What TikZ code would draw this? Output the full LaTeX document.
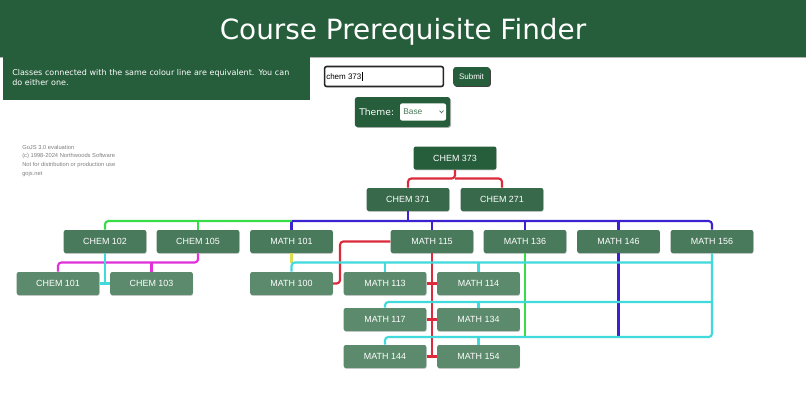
\documentclass[tikz,border=0pt]{standalone}
\usepackage{fontspec}
\setmainfont{Liberation Sans}
\newfontfamily\verdanalike{DejaVu Sans}
\usetikzlibrary{shadows}
\definecolor{pagegreen}{HTML}{265D3B}
\definecolor{levela}{HTML}{265D3B}
\definecolor{levelb}{HTML}{37694A}
\definecolor{levelc}{HTML}{4A7A5C}
\definecolor{leveld}{HTML}{5C8A6C}
\definecolor{linered}{HTML}{DC2A3C}
\definecolor{lineblue}{HTML}{3A22D0}
\definecolor{linegreen}{HTML}{38DC48}
\definecolor{linecyan}{HTML}{40DADC}
\definecolor{linepink}{HTML}{E030D8}
\definecolor{lineyellow}{HTML}{E0DC50}
\tikzset{
  course/.style={rounded corners=1.5pt,minimum width=61.9pt,minimum height=17.25pt,inner sep=0pt,
    text=white,font=\fontsize{6.7}{8}\selectfont,
    drop shadow={shadow xshift=0.3pt,shadow yshift=-0.6pt,fill=black!30,opacity=0.6}},
  link/.style={draw,line width=1.6pt,rounded corners=2.5pt},
  panel/.style={fill=pagegreen,draw=none,inner sep=0pt},
  stamp/.style={anchor=west,inner sep=0pt,text=black!50,font=\fontsize{4.33}{5}\selectfont}
}
\begin{document}
\begin{tikzpicture}[x=0.75pt,y=-0.75pt]
\useasboundingbox (0,0) rectangle (806,400);
\path[fill=white] (0,0) rectangle (806,400);

\path[fill=black!30] (0,56) rectangle (806,58);
\path[fill=pagegreen] (0,0) rectangle (806,56.5);
\node[text=white,inner sep=0pt,font=\verdanalike\fontsize{20.9}{25}\selectfont] (title) at (403,31.5) {Course Prerequisite Finder};

\path[fill=pagegreen] (3,56) rectangle (310,100);
\node[anchor=north west,inner sep=0pt,text=white,text width=212pt,font=\verdanalike\fontsize{6.0}{7.5}\selectfont] (note) at (12,69)
  {Classes connected with the same colour line are equivalent. You can do either one.};

\node[draw=black!85,line width=1.2pt,fill=white,rounded corners=1.5pt,minimum width=89pt,minimum height=15pt,inner sep=0pt] (searchbox) at (384,76.5) {};
\node[anchor=west,inner sep=0pt,font=\fontsize{6.0}{8}\selectfont] (searchtext) at (326,76.5) {chem 373\kern0.1pt\rule[-0.8pt]{0.4pt}{6.2pt}};
\node[panel,rounded corners=2pt,minimum width=27.5pt,minimum height=14.2pt,text=white,font=\fontsize{6.0}{8}\selectfont,
  drop shadow={shadow xshift=0.7pt,shadow yshift=-0.7pt,fill=black,opacity=0.75}] (submit) at (471.5,76.5) {Submit};

\node[panel,rounded corners=2pt,minimum width=71.5pt,minimum height=22.5pt,
  drop shadow={shadow xshift=0.7pt,shadow yshift=-0.7pt,fill=black!40,opacity=0.7}] (themebox) at (402.5,112) {};
\node[anchor=west,inner sep=0pt,text=white,font=\verdanalike\fontsize{6.9}{9}\selectfont] (themetext) at (359,112) {Theme:};
\node[fill=white,rounded corners=1.5pt,minimum width=34.5pt,minimum height=12.8pt,inner sep=0pt] (themeselect) at (423,112) {};
\node[anchor=west,inner sep=0pt,text=levelc,font=\fontsize{6.3}{8}\selectfont] (themebase) at (403,112) {Base};
\path[draw,levelc,line width=0.5pt] (439.5,110.5) -- (441.5,112.8) -- (443.5,110.5);

\node[stamp] (stampa) at (22,147.7) {GoJS 3.0 evaluation};
\node[stamp] (stampb) at (22,156.2) {(c) 1998-2024 Northwoods Software};
\node[stamp] (stampc) at (22,165) {Not for distribution or production use};
\node[stamp] (stampd) at (22,173.7) {gojs.net};

\node[course,fill=levela] (chem373) at (455,158) {CHEM 373};
\node[course,fill=levelb] (chem371) at (408,199.5) {CHEM 371};
\node[course,fill=levelb] (chem271) at (502,199.5) {CHEM 271};

\node[course,fill=levelc] (chem102) at (105,241.5) {CHEM 102};
\node[course,fill=levelc] (chem105) at (198,241.5) {CHEM 105};
\node[course,fill=levelc] (math101) at (291.5,241.5) {MATH 101};
\node[course,fill=levelc] (math115) at (432,241.5) {MATH 115};
\node[course,fill=levelc] (math136) at (525,241.5) {MATH 136};
\node[course,fill=levelc] (math146) at (618.5,241.5) {MATH 146};
\node[course,fill=levelc] (math156) at (712,241.5) {MATH 156};

\node[course,fill=leveld] (chem101) at (58,283.5) {CHEM 101};
\node[course,fill=leveld] (chem103) at (151.5,283.5) {CHEM 103};
\node[course,fill=leveld] (math100) at (291.5,283.5) {MATH 100};
\node[course,fill=leveld] (math113) at (385,283.5) {MATH 113};
\node[course,fill=leveld] (math114) at (478.5,283.5) {MATH 114};
\node[course,fill=leveld] (math117) at (385,319.5) {MATH 117};
\node[course,fill=leveld] (math134) at (478.5,319.5) {MATH 134};
\node[course,fill=leveld] (math144) at (385,356.5) {MATH 144};
\node[course,fill=leveld] (math154) at (478.5,356.5) {MATH 154};

\coordinate (redbar) at (455,178.5);
\coordinate (bluebar) at (408,221);
\coordinate (greenbar) at (291.5,221);
\coordinate (pinkbar) at (198,262.5);
\coordinate (chembar) at (105,283.5);
\coordinate (cyanbara) at (291.5,262.5);
\coordinate (cyanbarb) at (712,302);
\coordinate (cyanbarc) at (712,337);
\coordinate (redturn) at (340,283.5);
\coordinate (redtapc) at (432,356.5);

\path[link,linered] (chem373.south) -- (redbar) -| (chem371.north);
\path[link,linered] (redbar) -| (chem271.north);

\path[link,lineblue] (chem371.south) -- (bluebar);
\path[link,lineblue] (greenbar) -- (math101.north);
\path[link,lineblue] (greenbar) -- (bluebar) -| (math156.north);
\path[link,lineblue] (bluebar -| math115.north) -- (math115.north);
\path[link,lineblue] (bluebar -| math136.north) -- (math136.north);
\path[link,lineblue] (bluebar -| math146.north) -- (math146.north);
\path[link,linegreen] (greenbar) -| (chem102.north);
\path[link,linegreen] (greenbar -| chem105.north) -- (chem105.north);

\path[link,linepink] (chem105.south) |- (pinkbar) -| (chem101.north);
\path[link,linepink] (pinkbar -| chem103.north) -- (chem103.north);
\path[link,linecyan] (chem102.south) -- (chembar);
\path[link,linecyan] (chem101.east) -- (chem103.west);

\path[link,lineyellow] (math101.south) -- (cyanbara);
\path[link,linered] (math115.south) -- (redtapc);
\path[link,linered] (math100.east) -- (redturn) |- (math115.west);
\path[link,linered] (math113.east) -- (math114.west);
\path[link,linered] (math117.east) -- (math134.west);
\path[link,linered] (math144.east) -- (math154.west);
\path[link,linegreen] (math136.south) -- (math136.south |- cyanbarc);
\path[link,lineblue] (math146.south) -- (math146.south |- cyanbarc);

\path[link,linecyan] (math100.north) -- (cyanbara) -- (cyanbara -| math156.south);
\path[link,linecyan] (cyanbara -| math113.north) -- (math113.north);
\path[link,linecyan] (cyanbara -| math114.north) -- (math114.north);
\path[link,linecyan] (math156.south) -- (cyanbarc) -| (math144.north);
\path[link,linecyan] (cyanbarb) -| (math117.north);
\path[link,linecyan] (cyanbarb -| math134.north) -- (math134.north);
\path[link,linecyan] (cyanbarc -| math154.north) -- (math154.north);
\end{tikzpicture}
\end{document}
